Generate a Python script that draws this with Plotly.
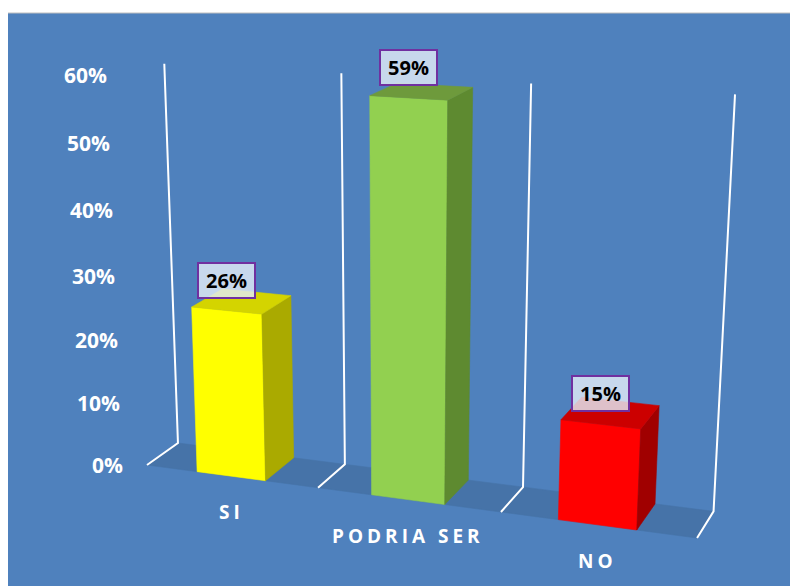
import plotly.graph_objects as go

# ---- data ----
categories = ["SI", "PODRIA SER", "NO"]
values = [0.26, 0.59, 0.15]
tick_values = [0.0, 0.1, 0.2, 0.3, 0.4, 0.5, 0.6]
tick_labels = ["0%", "10%", "20%", "30%", "40%", "50%", "60%"]

# ---- style ----
front_colors = ["#FFFF00", "#92D050", "#FF0000"]
side_colors = ["#AAAA00", "#5E8A30", "#A00000"]
top_colors = ["#D4D400", "#6E9A3C", "#CC0000"]
BG = "#4F81BD"
FLOOR = "#4673A8"
FONT = "Open Sans"
BAR_WIDTH = 0.4      # fraction of category slot
V_MAX = 0.6


# 3-D perspective camera: (category position u, value v, depth d) -> view coords
def proj(u, v, d):
    X = 147 + 160.7 * u - 39.8 * v + 36.3 * d
    Y = 465 + 6.85 * u - 657.5 * v - 8.7 * d
    W = 1 - 0.0325 * u - 0.0995 * v + 0.03 * d
    return X / W, Y / W


def poly(points):
    xs, ys = [], []
    for (u, v, d) in points:
        x, y = proj(u, v, d)
        xs.append(x)
        ys.append(y)
    xs.append(xs[0])
    ys.append(ys[0])
    return xs, ys


def face(points, color):
    xs, ys = poly(points)
    return go.Scatter(x=xs, y=ys, mode="lines", fill="toself", fillcolor=color,
                      line=dict(color=color, width=0.6), hoverinfo="skip",
                      showlegend=False)


fig = go.Figure()
n = len(categories)

# floor
fig.add_trace(face([(0, 0, 0), (n, 0, 0), (n, 0, 1), (0, 0, 1)], FLOOR))

# category grid lines (floor depth + back wall)
gx, gy = [], []
for k in range(n + 1):
    for pt in [(k, 0, 0), (k, 0, 1), (k, V_MAX, 1)]:
        x, y = proj(*pt)
        gx.append(x)
        gy.append(y)
    gx.append(None)
    gy.append(None)
fig.add_trace(go.Scatter(x=gx, y=gy, mode="lines", line=dict(color="white", width=2),
                         hoverinfo="skip", showlegend=False))

# bars
for i, (cat, val) in enumerate(zip(categories, values)):
    c = i + 0.5
    u0, u1 = c - BAR_WIDTH / 2, c + BAR_WIDTH / 2
    d0, d1 = 0.0, 1.0
    fig.add_trace(face([(u0, 0, d0), (u1, 0, d0), (u1, val, d0), (u0, val, d0)], front_colors[i]))
    fig.add_trace(face([(u1, 0, d0), (u1, 0, d1), (u1, val, d1), (u1, val, d0)], side_colors[i]))
    fig.add_trace(face([(u0, val, d0), (u1, val, d0), (u1, val, d1), (u0, val, d1)], top_colors[i]))

annotations = []
# value axis labels
for tv, tl in zip(tick_values, tick_labels):
    x, y = proj(0, tv, 0)
    annotations.append(dict(x=x, y=y, xref="x", yref="y", text=tl, showarrow=False,
                            xanchor="right", yanchor="middle", xshift=-22,
                            font=dict(family=FONT, size=21, color="white", weight="bold")))
# category labels
for i, cat in enumerate(categories):
    x, y = proj(i + 0.5, 0, 0)
    annotations.append(dict(x=x, y=y, xref="x", yref="y",
                            text=f'<span style="letter-spacing:4px">{cat}</span>',
                            showarrow=False, xanchor="center", yanchor="middle", yshift=-36,
                            font=dict(family=FONT, size=19, color="white", weight="bold")))
# data labels
for i, val in enumerate(values):
    x, y = proj(i + 0.5, val, 0)
    annotations.append(dict(x=x, y=y, xref="x", yref="y", text=f"{val:.0%}",
                            showarrow=False, xanchor="center", yanchor="bottom", yshift=12,
                            width=55, height=33, borderpad=0, borderwidth=2,
                            bordercolor="#7030A0", bgcolor="rgba(226,235,246,0.82)",
                            font=dict(family=FONT, size=20, color="black", weight="bold")))

# the page body adds an 8px offset; the figure is sized so the chart fills the window
fig.update_layout(
    width=790, height=578,
    margin=dict(l=0, r=0, t=5, b=0),
    paper_bgcolor="white", plot_bgcolor=BG,
    xaxis=dict(range=[8, 798], visible=False, fixedrange=True),
    yaxis=dict(range=[586, 13], visible=False, fixedrange=True),
    annotations=annotations,
    shapes=[dict(type="line", xref="paper", yref="paper", x0=0, x1=1, y0=1, y1=1,
                 line=dict(color="#BFBFBF", width=1))],
    showlegend=False,
)

fig.write_html("out.html")
